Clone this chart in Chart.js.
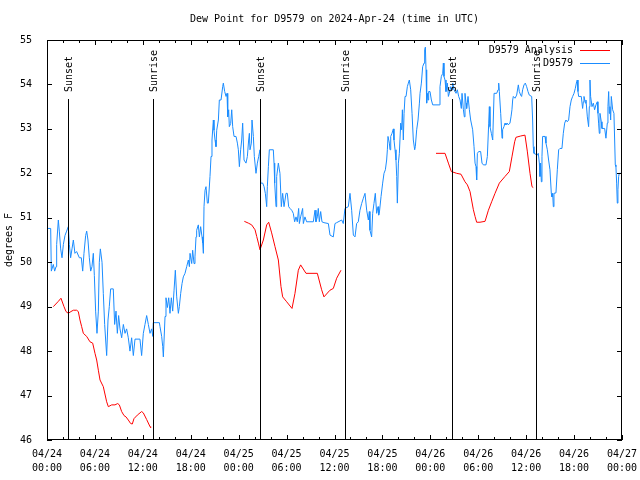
<!DOCTYPE html>
<html>
<head>
<meta charset="utf-8">
<script src="https://cdn.jsdelivr.net/npm/chart.js@4"></script>
<style>
    html, body { margin: 0; padding: 0; background: #fff; }
    #dewChart { display: block; }
</style>
</head>
<body>
<canvas id="dewChart" width="640" height="480"></canvas>
<script>
// hours since 2024-04-24 00:00 UTC
const dayLabels = ["04/24", "04/24", "04/24", "04/24", "04/25", "04/25", "04/25", "04/25", "04/26", "04/26", "04/26", "04/26", "04/27"];
const timeLabels = ["00:00", "06:00", "12:00", "18:00", "00:00", "06:00", "12:00", "18:00", "00:00", "06:00", "12:00", "18:00", "00:00"];

const sunHours = [2.67, 13.31, 26.67, 37.36, 50.75, 61.23];
const sunLabels = ["Sunset", "Sunrise", "Sunset", "Sunrise", "Sunset", "Sunrise"];

// analysis series, null = gap
const analysisHours = [
    0.79, 1.42, 1.75, 2.13, 2.38, 2.67, 3.0, 3.3, 3.71, 3.92, 4.13, 4.34, 4.55, 4.97, 5.38, 5.72,
    6.01, 6.22, 6.43, 6.64, 7.05, 7.47, 7.68, 8.1, 8.51, 8.85, 9.06, 9.35, 9.64, 9.89, 10.18, 10.48,
    10.68, 10.89, 11.31, 11.85, 12.06, 12.48, 12.9, 12.98,
    18.0,
    24.71, 25.21, 25.63, 26.05, 26.26, 26.47, 26.67, 27.09, 27.51, 27.76, 28.13, 28.55, 28.97, 29.3,
    29.51, 30.01, 30.68, 31.05, 31.47, 31.76, 32.43, 33.85, 34.39, 34.68, 35.43, 35.85, 36.27, 36.81,
    42.0,
    48.71, 49.84, 50.26, 50.63, 51.3, 51.84, 52.34, 52.64, 52.97, 53.39, 53.6, 53.8, 54.22, 54.85,
    55.27, 55.68, 56.1, 56.64, 57.35, 57.89, 58.22, 58.56, 58.72, 59.31, 59.85, 60.14, 60.48, 60.73, 60.89,
];
const analysisValues = [
    49.0, 49.12, 49.19, 49.0, 48.89, 48.85, 48.89, 48.92, 48.92, 48.89, 48.7, 48.55, 48.4, 48.33, 48.21, 48.18,
    47.95, 47.8, 47.57, 47.35, 47.2, 46.86, 46.75, 46.79, 46.79, 46.82, 46.79, 46.64, 46.55, 46.52, 46.45, 46.37,
    46.36, 46.48, 46.56, 46.64, 46.61, 46.46, 46.3, 46.28,
    null,
    50.92, 50.88, 50.84, 50.73, 50.58, 50.43, 50.28, 50.5, 50.84, 50.9, 50.66, 50.35, 50.05, 49.45,
    49.22, 49.11, 48.96, 49.3, 49.82, 49.94, 49.75, 49.75, 49.38, 49.22, 49.37, 49.41, 49.64, 49.82,
    null,
    52.45, 52.45, 52.23, 52.04, 52.0, 51.98, 51.81, 51.74, 51.59, 51.18, 51.03, 50.9, 50.9, 50.92,
    51.17, 51.36, 51.55, 51.78, 51.93, 52.04, 52.37, 52.71, 52.81, 52.84, 52.86, 52.5, 52.0, 51.7, 51.68,
];

// station observations
const obsHours = [
    0.0, 0.46, 0.54, 0.79, 0.96, 1.13, 1.21, 1.42, 1.54, 1.71, 1.88, 2.05, 2.25, 2.46, 2.67, 2.8,
    2.96, 3.13, 3.3, 3.5, 3.71, 4.05, 4.3, 4.47, 4.63, 4.84, 4.97, 5.13, 5.3, 5.47, 5.63, 5.8,
    5.93, 6.09, 6.26, 6.43, 6.55, 6.68, 6.89, 7.05, 7.22, 7.47, 7.64, 7.8, 7.97, 8.3, 8.47, 8.64,
    8.81, 8.97, 9.14, 9.35, 9.56, 9.77, 9.97, 10.18, 10.39, 10.6, 10.81, 11.02, 11.64, 11.85, 12.06, 12.27,
    12.48, 12.69, 12.9, 13.1, 13.25, 13.31, 14.07, 14.15, 14.36, 14.49, 14.57, 14.78, 14.9, 15.07, 15.24, 15.4,
    15.57, 15.74, 15.91, 16.07, 16.24, 16.45, 16.57, 16.74, 16.91, 17.07, 17.28, 17.49, 17.7, 17.83, 17.91, 18.12,
    18.24, 18.41, 18.53, 18.66, 18.74, 18.95, 19.08, 19.24, 19.41, 19.5, 19.58, 19.66, 19.79, 19.91, 20.08, 20.2,
    20.41, 20.54, 20.66, 20.83, 20.91, 21.04, 21.16, 21.25, 21.46, 21.58, 21.79, 22.0, 22.08, 22.25, 22.42, 22.54,
    22.63, 22.75, 22.83, 23.0, 23.13, 23.25, 23.42, 23.67, 23.84, 23.96, 24.09, 24.25, 24.38, 24.5, 24.67, 24.92,
    25.09, 25.25, 25.34, 25.42, 25.59, 25.67, 25.84, 25.96, 26.17, 26.34, 26.51, 26.67, 26.76, 27.01, 27.18, 27.34,
    27.51, 27.59, 27.72, 27.84, 28.34, 28.43, 28.51, 28.68, 28.76, 28.97, 29.17, 29.34, 29.51, 29.68, 29.93, 30.09,
    30.26, 30.43, 30.64, 30.84, 31.01, 31.18, 31.34, 31.51, 31.6, 31.76, 32.01, 32.1, 32.3, 32.51, 32.93, 33.35,
    33.56, 33.68, 33.85, 33.97, 34.1, 34.27, 34.43, 34.68, 35.23, 35.44, 35.85, 36.06, 36.27, 36.9, 37.1, 37.31,
    37.73, 37.94, 38.15, 38.36, 38.57, 38.77, 38.98, 39.19, 39.4, 39.61, 39.82, 40.03, 40.24, 40.36, 40.44, 40.65,
    40.78, 40.94, 41.11, 41.28, 41.45, 41.53, 41.61, 41.83, 42.03, 42.2, 42.37, 42.53, 42.62, 42.7, 42.87, 42.95,
    43.04, 43.2, 43.37, 43.45, 43.58, 43.7, 43.79, 43.87, 44.0, 44.12, 44.29, 44.41, 44.5, 44.62, 44.71, 44.83,
    44.96, 45.12, 45.25, 45.37, 45.54, 45.71, 45.87, 46.04, 46.12, 46.29, 46.46, 46.63, 46.71, 46.88, 47.04, 47.21,
    47.29, 47.38, 47.46, 47.54, 47.63, 47.71, 47.79, 47.96, 48.13, 48.3, 49.13, 49.21, 49.38, 49.55, 49.63, 49.71,
    49.84, 49.96, 50.13, 50.26, 50.38, 50.55, 50.72, 50.8, 50.97, 51.22, 51.38, 51.55, 51.72, 51.88, 51.97, 52.14,
    52.26, 52.34, 52.47, 52.55, 52.72, 52.89, 53.05, 53.3, 53.47, 53.6, 53.72, 53.8, 53.89, 54.05, 54.3, 54.47,
    54.64, 54.97, 55.14, 55.31, 55.39, 55.47, 55.64, 55.81, 55.98, 56.31, 56.48, 56.56, 56.64, 56.81, 56.98, 57.05,
    57.22, 57.35, 57.47, 57.64, 57.76, 57.97, 58.1, 58.22, 58.31, 58.39, 58.6, 58.81, 59.02, 59.14, 59.31, 59.43,
    59.56, 59.73, 59.89, 60.06, 60.23, 60.39, 60.69, 60.81, 60.89, 60.98, 61.39, 61.52, 61.65, 61.73, 61.81, 61.9,
    61.98, 62.06, 62.36, 62.48, 62.65, 62.81, 62.98, 63.15, 63.23, 63.32, 63.4, 63.48, 63.73, 63.9, 64.07, 64.23,
    64.48, 64.65, 64.82, 64.98, 65.15, 65.32, 65.49, 65.65, 65.82, 65.99, 66.15, 66.32, 66.4, 66.49, 66.57, 66.9,
    67.07, 67.16, 67.24, 67.41, 67.49, 67.66, 67.82, 67.91, 67.99, 68.07, 68.24, 68.41, 68.57, 68.74, 68.91, 68.99,
    69.07, 69.16, 69.24, 69.41, 69.49, 69.83, 69.99, 70.16, 70.24, 70.33, 70.41, 70.49, 70.58, 70.66, 70.83, 70.99,
    71.08, 71.16, 71.24, 71.33, 71.41, 71.49, 71.58, 71.66, 71.83, 71.95,
];
const obsValues = [
    50.76, 50.76, 49.8, 49.95, 49.8, 49.9, 50.4, 50.95, 50.7, 50.3, 50.1, 50.4, 50.6, 50.7, 50.8, 50.4,
    50.1, 50.3, 50.5, 50.2, 50.24, 50.1, 50.1, 49.8, 50.2, 50.6, 50.7, 50.5, 50.1, 49.8, 49.9, 50.2,
    49.7, 48.9, 48.4, 48.9, 50.0, 50.3, 50.0, 49.3, 48.6, 47.9, 48.7, 49.0, 49.4, 49.4, 48.6, 48.9,
    48.4, 48.8, 48.5, 48.3, 48.6, 48.4, 48.5, 48.3, 48.0, 48.3, 47.9, 48.27, 48.27, 47.9, 48.4, 48.6,
    48.8, 48.6, 48.4, 48.5, 48.33, 48.64, 48.64, 48.55, 48.33, 48.1, 47.87, 48.78, 49.2, 48.98, 49.2, 48.85,
    49.2, 48.9, 49.37, 49.82, 49.22, 48.85, 49.0, 49.3, 49.52, 49.67, 49.75, 49.9, 50.05, 49.9, 50.2, 49.97,
    50.27, 49.97, 50.12, 50.57, 50.72, 50.84, 50.57, 50.8, 50.57, 50.43, 50.2, 51.25, 51.62, 51.7, 51.33, 51.33,
    51.93, 52.38, 52.75, 53.2, 52.97, 52.75, 52.6, 52.97, 53.2, 53.65, 53.65, 53.95, 54.03, 53.84, 53.73, 53.8,
    53.27, 53.43, 53.05, 53.12, 53.43, 53.05, 52.83, 52.83, 52.68, 52.53, 52.15, 52.53, 52.75, 53.13, 52.3, 52.23,
    52.38, 52.75, 52.9, 52.53, 52.68, 53.2, 52.83, 52.38, 52.0, 52.23, 52.38, 52.53, 51.78, 51.78, 51.7, 51.55,
    51.25, 51.7, 52.15, 52.53, 52.53, 52.23, 51.78, 51.25, 51.93, 52.23, 52.0, 51.25, 51.55, 51.25, 51.55, 51.55,
    51.25, 51.21, 51.17, 51.1, 50.91, 51.02, 50.91, 51.21, 50.87, 51.02, 51.21, 50.87, 51.02, 50.91, 50.91, 50.91,
    51.17, 50.91, 51.02, 51.21, 50.91, 51.14, 50.91, 50.89, 50.87, 50.61, 50.57, 50.87, 50.89, 50.95, 50.87, 51.21,
    51.25, 51.55, 51.17, 50.61, 50.57, 50.87, 50.91, 51.17, 51.32, 51.44, 51.55, 51.17, 50.95, 51.14, 50.72, 50.57,
    51.1, 51.32, 51.55, 51.1, 51.25, 51.06, 51.1, 51.48, 51.78, 52.0, 52.08, 52.3, 52.53, 52.83, 52.68, 52.53,
    52.83, 52.9, 53.0, 52.75, 52.53, 52.3, 51.93, 51.33, 52.23, 52.45, 53.13, 52.98, 53.43, 52.75, 53.35, 53.73,
    53.73, 53.95, 54.03, 54.1, 53.88, 53.35, 52.75, 52.53, 52.6, 52.98, 53.2, 53.58, 53.8, 54.03, 54.4, 54.48,
    54.78, 54.84, 54.33, 53.58, 53.8, 53.65, 53.84, 53.84, 53.65, 53.54, 53.54, 53.95, 54.18, 54.25, 54.48, 54.18,
    54.1, 53.84, 54.03, 53.73, 53.8, 53.95, 53.88, 54.03, 53.88, 53.8, 53.88, 53.73, 53.65, 53.46, 53.8, 53.43,
    53.27, 53.8, 53.58, 53.46, 53.73, 53.43, 53.2, 52.98, 52.6, 52.23, 52.15, 51.85, 52.45, 52.49, 52.49, 52.23,
    52.19, 52.19, 52.38, 53.13, 53.5, 53.05, 52.9, 52.75, 53.8, 53.8, 53.88, 54.03, 53.84, 53.35, 52.79, 52.98,
    53.05, 53.13, 53.09, 53.13, 53.09, 53.13, 53.27, 53.43, 53.65, 53.73, 53.69, 53.76, 53.99, 53.84, 53.76, 53.73,
    53.88, 53.99, 54.03, 53.95, 53.84, 53.76, 53.73, 53.2, 52.6, 52.45, 52.41, 52.45, 52.23, 51.93, 52.23, 51.81,
    52.38, 52.83, 52.83, 52.68, 52.53, 52.3, 52.08, 51.55, 51.47, 51.55, 51.25, 51.55, 51.56, 52.08, 52.53, 52.56,
    52.56, 52.9, 53.13, 53.2, 53.16, 53.2, 53.5, 53.65, 53.73, 53.8, 53.91, 54.06, 54.1, 53.84, 53.73, 53.73,
    53.46, 53.61, 53.73, 53.58, 53.65, 53.27, 53.05, 53.5, 54.1, 53.73, 53.5, 53.58, 53.43, 53.54, 53.61, 53.35,
    53.13, 52.9, 53.35, 53.16, 53.01, 53.01, 52.79, 53.13, 53.5, 53.84, 53.35, 53.5, 53.2, 53.73, 53.43, 53.35,
    52.75, 52.19, 52.15, 51.78, 51.33, 51.63, 51.93, 52.0, 52.0, 52.0,
];

const plotFont = "'DejaVu Sans Mono', 'Liberation Mono', monospace";

// gnuplot style frame: box, inward ticks on all sides, sun lines, legend, title
const frameDecor = {
    id: "frameDecor",
    afterDraw(chart) {
        const { ctx, chartArea: area, scales } = chart;
        const xs = scales.x;
        const ys = scales.y;
        ctx.save();
        ctx.strokeStyle = "#000";
        ctx.lineWidth = 1;
        ctx.strokeRect(area.left + 0.5, area.top + 0.5, area.right - area.left - 1, area.bottom - area.top - 1);

        ctx.beginPath();
        for (let h = 0; h <= 72; h += 2) {
            const px = Math.round(xs.getPixelForValue(h)) + 0.5;
            const len = h % 6 === 0 ? 5 : 3;
            ctx.moveTo(px, area.bottom);
            ctx.lineTo(px, area.bottom - len);
            ctx.moveTo(px, area.top);
            ctx.lineTo(px, area.top + len);
        }
        for (let v = 46; v <= 55; v += 1) {
            const py = Math.round(ys.getPixelForValue(v)) + 0.5;
            ctx.moveTo(area.left, py);
            ctx.lineTo(area.left + 5, py);
            ctx.moveTo(area.right, py);
            ctx.lineTo(area.right - 5, py);
        }
        ctx.stroke();

        ctx.font = "10px " + plotFont;
        ctx.fillStyle = "#000";
        sunHours.forEach((h, i) => {
            const px = Math.round(xs.getPixelForValue(h)) + 0.5;
            ctx.beginPath();
            ctx.moveTo(px, 99);
            ctx.lineTo(px, area.bottom);
            ctx.stroke();
            ctx.save();
            ctx.translate(px + 1, 92);
            ctx.rotate(-Math.PI / 2);
            ctx.textAlign = "left";
            ctx.textBaseline = "middle";
            ctx.fillText(sunLabels[i], 0, 0);
            ctx.restore();
        });

        // legend: text then sample line
        ctx.textAlign = "right";
        ctx.textBaseline = "middle";
        chart.data.datasets.forEach((ds, i) => {
            const y = 50 + i * 13;
            ctx.fillStyle = "#000";
            ctx.fillText(ds.label, 573, y);
            ctx.strokeStyle = ds.borderColor;
            ctx.beginPath();
            ctx.moveTo(580, y + 0.5);
            ctx.lineTo(610, y + 0.5);
            ctx.stroke();
        });

        ctx.fillStyle = "#000";
        ctx.textAlign = "center";
        ctx.fillText("Dew Point for D9579 on 2024-Apr-24 (time in UTC)", (area.left + area.right) / 2, 19);
        ctx.restore();
    },
};

function toPoints(xs, ys) {
    return xs.map((x, i) => ({ x: x, y: ys[i] }));
}

new Chart(document.getElementById("dewChart"), {
    type: "line",
    data: {
        datasets: [
            {
                label: "D9579 Analysis",
                data: toPoints(analysisHours, analysisValues),
                borderColor: "#ff0000",
                borderWidth: 1,
                pointRadius: 0,
                tension: 0,
                spanGaps: false,
            },
            {
                label: "D9579",
                data: toPoints(obsHours, obsValues),
                borderColor: "#1a8cff",
                borderWidth: 1,
                pointRadius: 0,
                tension: 0,
            },
        ],
    },
    options: {
        responsive: false,
        animation: false,
        events: [],
        layout: { padding: { top: 40, right: 18, left: 0, bottom: 0 } },
        plugins: { legend: { display: false }, title: { display: false }, tooltip: { enabled: false } },
        scales: {
            x: {
                type: "linear",
                min: 0,
                max: 72,
                grid: { display: false },
                border: { display: false },
                afterFit: (s) => {
                    s.height = 40;
                    s.paddingLeft = 0;
                    s.paddingRight = 0;
                },
                afterBuildTicks: (s) => {
                    s.ticks = dayLabels.map((d, i) => ({ value: i * 6 }));
                },
                ticks: {
                    autoSkip: false,
                    maxRotation: 0,
                    padding: -1,
                    color: "#000",
                    font: { family: plotFont, size: 10, lineHeight: 1.4 },
                    callback: (v, i) => [dayLabels[i], timeLabels[i]],
                },
            },
            y: {
                min: 46,
                max: 55,
                grid: { display: false },
                border: { display: false },
                afterFit: (s) => { s.width = 47; },
                ticks: {
                    stepSize: 1,
                    padding: 7,
                    color: "#000",
                    font: { family: plotFont, size: 10 },
                },
                title: {
                    display: true,
                    text: "degrees F",
                    color: "#000",
                    padding: { top: 3, bottom: 0 },
                    font: { family: plotFont, size: 10 },
                },
            },
        },
    },
    plugins: [frameDecor],
});
</script>
</body>
</html>
